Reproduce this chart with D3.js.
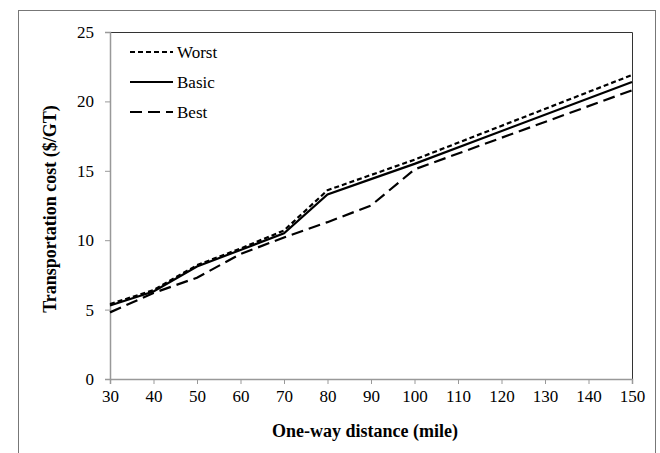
<!DOCTYPE html>
<html>
<head>
<meta charset="utf-8">
<script src="https://cdn.jsdelivr.net/npm/d3@7"></script>
<style>
  body { margin: 0; background: #fff; }
  text { font-family: "Liberation Serif", "Times New Roman", serif; fill: #000; }
</style>
</head>
<body>
<div id="chart"></div>
<script>
// distances (mile) and cost per series ($/GT)
var distance = [30, 40, 50, 60, 70, 80, 90, 100, 150];
var worst = [5.4, 6.4, 8.2, 9.4, 10.7, 13.6, 14.7, 15.8, 21.9];
var basic = [5.3, 6.3, 8.1, 9.3, 10.5, 13.3, 14.4, 15.5, 21.4];
var best  = [4.8, 6.2, 7.3, 9.0, 10.2, 11.3, 12.5, 15.1, 20.8];

var xTicks = [30, 40, 50, 60, 70, 80, 90, 100, 110, 120, 130, 140, 150];
var yTicks = [0, 5, 10, 15, 20, 25];

var seriesNames = ["Worst", "Basic", "Best"];
var seriesDash = ["5,3", null, "12,6"];

var width = 660, height = 453;
var margin = {top: 32, right: 28, bottom: 74, left: 110};

var svg = d3.select("#chart")
    .append("svg")
    .attr("width", width)
    .attr("height", height);

// outer frame
svg.append("rect")
    .attr("x", 18.5).attr("y", 10.5)
    .attr("width", 637).attr("height", 460)
    .attr("fill", "none")
    .attr("stroke", "#777")
    .attr("stroke-width", 1);

var x = d3.scaleLinear()
    .domain([30, 150])
    .range([margin.left, width - margin.right]);

var y = d3.scaleLinear()
    .domain([0, 25])
    .range([height - margin.bottom, margin.top]);

// plot area border (top/right)
svg.append("path")
    .attr("d", `M${x(30)},${y(25) + 0.5}H${x(150) + 0.5}V${y(0)}`)
    .attr("fill", "none")
    .attr("stroke", "#333")
    .attr("stroke-width", 1);

var xAxis = svg.append("g")
    .attr("transform", `translate(0, ${y(0)})`)
    .call(d3.axisBottom(x).tickValues(xTicks).tickSize(5).tickPadding(6).tickFormat(d3.format("d")));

var yAxis = svg.append("g")
    .attr("transform", `translate(${x(30)}, 0)`)
    .call(d3.axisLeft(y).tickValues(yTicks).tickSize(5).tickPadding(11).tickFormat(d3.format("d")));

[xAxis, yAxis].forEach(function(g) {
    g.select(".domain").attr("stroke", "#999").attr("stroke-width", 1.5);
    g.selectAll(".tick line").attr("stroke", "#999");
    g.selectAll(".tick text")
        .style("font-family", "Liberation Serif, Times New Roman, serif")
        .style("font-size", "17px")
        .attr("fill", "#000");
});

var line = d3.line()
    .x(function(d) { return x(d[0]); })
    .y(function(d) { return y(d[1]); });

var allSeries = [worst, basic, best];

allSeries.forEach(function(vals, i) {
    var pts = distance.map(function(dv, j) { return [dv, vals[j]]; });
    svg.append("path")
        .datum(pts)
        .attr("fill", "none")
        .attr("stroke", "#000")
        .attr("stroke-width", 2.2)
        .attr("stroke-dasharray", seriesDash[i])
        .attr("d", line);
});

// legend
var legend = svg.append("g").attr("transform", "translate(130, 52)");
seriesNames.forEach(function(name, i) {
    var row = legend.append("g").attr("transform", `translate(0, ${i * 30})`);
    row.append("line")
        .attr("x1", 0).attr("x2", 43)
        .attr("stroke", "#000")
        .attr("stroke-width", 2.2)
        .attr("stroke-dasharray", seriesDash[i]);
    row.append("text")
        .attr("x", 47)
        .attr("y", 6)
        .style("font-size", "17px")
        .text(name);
});

// axis titles
svg.append("text")
    .attr("x", (x(30) + x(150)) / 2 - 6)
    .attr("y", 437)
    .attr("text-anchor", "middle")
    .style("font-size", "18px")
    .style("font-weight", "bold")
    .text("One-way distance (mile)");

svg.append("text")
    .attr("transform", "translate(56, 209) rotate(-90)")
    .attr("text-anchor", "middle")
    .style("font-size", "18px")
    .style("font-weight", "bold")
    .text("Transportation cost ($/GT)");
</script>
</body>
</html>
